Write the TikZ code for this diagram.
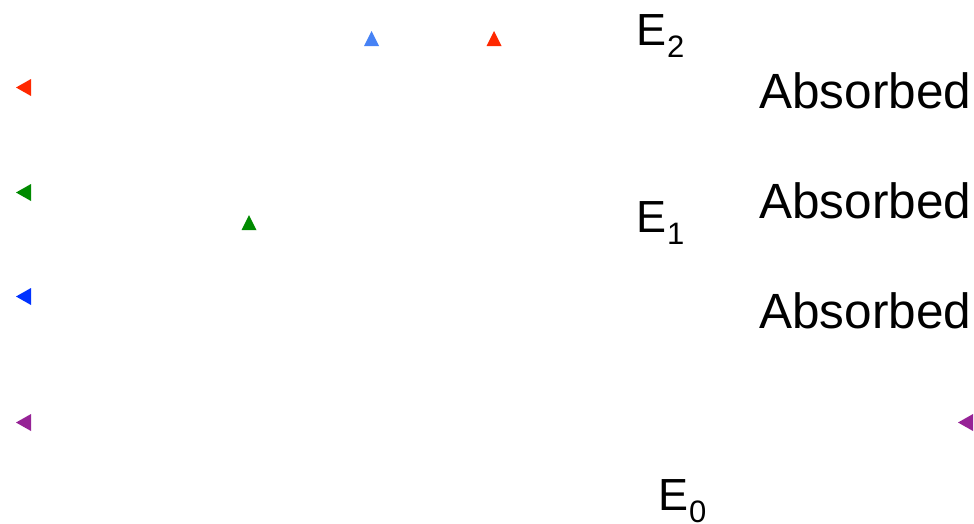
\documentclass[tikz,border=0pt]{standalone}
\usepackage{fontspec}
\setmainfont{Liberation Sans}
\definecolor{cred}{RGB}{255,40,0}
\definecolor{cblueup}{RGB}{70,130,245}
\definecolor{cgreen}{RGB}{0,138,0}
\definecolor{cblue}{RGB}{0,50,255}
\definecolor{cpurple}{RGB}{150,35,150}
\newcommand{\lvl}[1]{E\kern1pt\raisebox{-12pt}{\fontsize{31}{31}\selectfont #1}}
\begin{document}
\begin{tikzpicture}[x=1pt,y=-1pt,
  lbl/.style={anchor=base west,inner sep=0pt,font=\fontsize{45}{45}\selectfont},
  abs/.style={anchor=base west,inner sep=0pt,font=\fontsize{49.5}{49.5}\selectfont},
  tipleft/.style={fill=#1},
  tipup/.style={fill=#1}]
\useasboundingbox (0,0) rectangle (974,523);
% left-pointing heads
\fill[tipleft=cred] (16,87.5) -- (31,79) -- (31,96) -- cycle;
\fill[tipleft=cgreen] (16,192.5) -- (31,184) -- (31,201) -- cycle;
\fill[tipleft=cblue] (16,296.5) -- (31,288) -- (31,305) -- cycle;
\fill[tipleft=cpurple] (16,422.5) -- (31,414) -- (31,431) -- cycle;
\fill[tipleft=cpurple] (958,422.5) -- (973,414) -- (973,431) -- cycle;
% up-pointing heads
\fill[tipup=cblueup] (371.5,31) -- (379,46) -- (364,46) -- cycle;
\fill[tipup=cred] (494,31) -- (501.5,46) -- (486.5,46) -- cycle;
\fill[tipup=cgreen] (249,215) -- (256.5,230) -- (241.5,230) -- cycle;
% level labels
\node[lbl] (e2) at (636,45) {\lvl{2}};
\node[lbl] (e1) at (636,232) {\lvl{1}};
\node[lbl] (e0) at (658,510) {\lvl{0}};
% absorbed labels
\node[abs] (a1) at (759,108) {Absorbed};
\node[abs] (a2) at (759,218) {Absorbed};
\node[abs] (a3) at (759,328) {Absorbed};
\end{tikzpicture}
\end{document}
